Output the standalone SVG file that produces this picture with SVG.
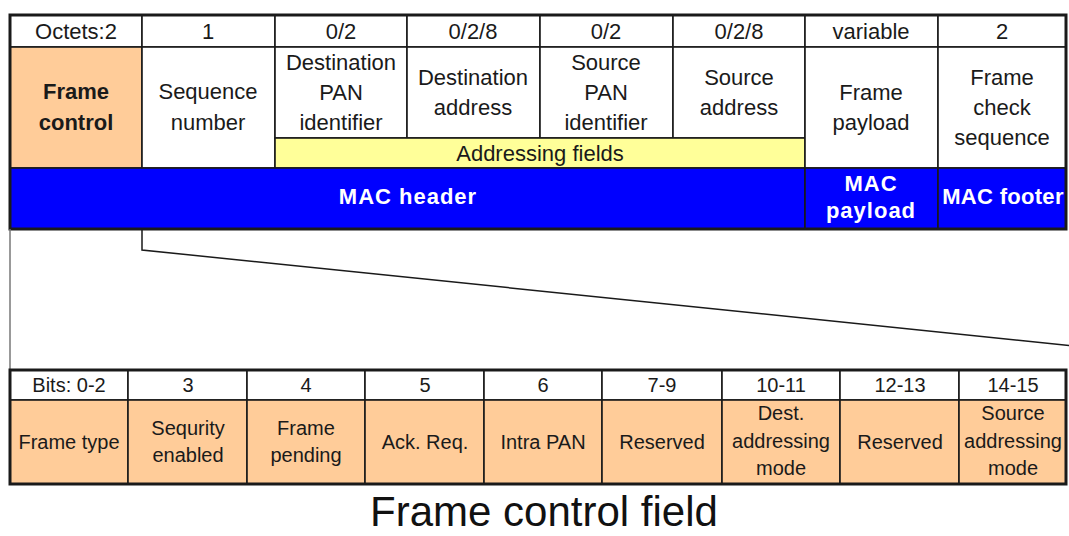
<svg xmlns="http://www.w3.org/2000/svg" width="1069" height="536" viewBox="0 0 1069 536">
  <style>
    .t { font-family: "Liberation Sans", Arial, sans-serif; font-size: 22px; fill: #1a1a1a; text-anchor: middle; }
    .s { font-family: "Liberation Sans", Arial, sans-serif; font-size: 20px; fill: #1a1a1a; text-anchor: middle; }
    .b { font-weight: bold; }
    .w { font-family: "Liberation Sans", Arial, sans-serif; font-size: 22px; font-weight: bold; fill: #ffffff; text-anchor: middle; letter-spacing: 1px; }
    .cell { stroke: #1a1a1a; stroke-width: 1.6; }
    .white { fill: #ffffff; }
    .peach { fill: #ffcc99; }
    .yellow { fill: #ffff99; }
    .blue { fill: #0000ff; }
    .frame { fill: none; stroke: #1a1a1a; stroke-width: 3; }
    .title { font-family: "Liberation Sans", Arial, sans-serif; font-size: 42px; fill: #111111; text-anchor: middle; }
  </style>

  <rect x="0" y="0" width="1069" height="536" fill="#ffffff"/>

  <!-- MAC frame: octet counts -->
  <g id="octets">
    <rect class="cell white" x="10" y="15" width="132" height="32"/>
    <rect class="cell white" x="142" y="15" width="133" height="32"/>
    <rect class="cell white" x="275" y="15" width="132" height="32"/>
    <rect class="cell white" x="407" y="15" width="133" height="32"/>
    <rect class="cell white" x="540" y="15" width="133" height="32"/>
    <rect class="cell white" x="673" y="15" width="132" height="32"/>
    <rect class="cell white" x="805" y="15" width="133" height="32"/>
    <rect class="cell white" x="938" y="15" width="128" height="32"/>
    <text class="t" x="76" y="39">Octets:2</text>
    <text class="t" x="208" y="39">1</text>
    <text class="t" x="341" y="39">0/2</text>
    <text class="t" x="473" y="39">0/2/8</text>
    <text class="t" x="606" y="39">0/2</text>
    <text class="t" x="739" y="39">0/2/8</text>
    <text class="t" x="871" y="39">variable</text>
    <text class="t" x="1002" y="39">2</text>
  </g>

  <g id="frame-control">
    <rect class="cell peach" x="10" y="47" width="132" height="121"/>
    <text class="t b" x="76" y="99">Frame</text>
    <text class="t b" x="76" y="130">control</text>
  </g>

  <g id="sequence-number">
    <rect class="cell white" x="142" y="47" width="133" height="121"/>
    <text class="t" x="208" y="99">Sequence</text>
    <text class="t" x="208" y="130">number</text>
  </g>

  <g id="dest-pan">
    <rect class="cell white" x="275" y="47" width="132" height="91"/>
    <text class="t" x="341" y="70">Destination</text>
    <text class="t" x="341" y="100">PAN</text>
    <text class="t" x="341" y="130">identifier</text>
  </g>

  <g id="dest-address">
    <rect class="cell white" x="407" y="47" width="133" height="91"/>
    <text class="t" x="473" y="85">Destination</text>
    <text class="t" x="473" y="115">address</text>
  </g>

  <g id="src-pan">
    <rect class="cell white" x="540" y="47" width="133" height="91"/>
    <text class="t" x="606" y="70">Source</text>
    <text class="t" x="606" y="100">PAN</text>
    <text class="t" x="606" y="130">identifier</text>
  </g>

  <g id="src-address">
    <rect class="cell white" x="673" y="47" width="132" height="91"/>
    <text class="t" x="739" y="85">Source</text>
    <text class="t" x="739" y="115">address</text>
  </g>

  <g id="addressing-fields">
    <rect class="cell yellow" x="275" y="138" width="530" height="30"/>
    <text class="t" x="540" y="161">Addressing fields</text>
  </g>

  <g id="frame-payload">
    <rect class="cell white" x="805" y="47" width="133" height="121"/>
    <text class="t" x="871" y="100">Frame</text>
    <text class="t" x="871" y="130">payload</text>
  </g>

  <g id="fcs">
    <rect class="cell white" x="938" y="47" width="128" height="121"/>
    <text class="t" x="1002" y="85">Frame</text>
    <text class="t" x="1002" y="115">check</text>
    <text class="t" x="1002" y="145">sequence</text>
  </g>

  <g id="mac-header">
    <rect class="cell blue" x="10" y="168" width="795" height="61"/>
    <text class="w" x="408" y="204">MAC header</text>
  </g>

  <g id="mac-payload">
    <rect class="cell blue" x="805" y="168" width="133" height="61"/>
    <text class="w" x="871" y="191">MAC</text>
    <text class="w" x="871" y="218">payload</text>
  </g>

  <g id="mac-footer">
    <rect class="cell blue" x="938" y="168" width="128" height="61"/>
    <text class="w" x="1003" y="204" style="letter-spacing:0.3px">MAC footer</text>
  </g>

  <rect class="frame" x="10" y="15" width="1056" height="214"/>

  <!-- expansion lines from the frame control field down to its bit layout -->
  <g id="connectors" fill="none">
    <line x1="10" y1="229" x2="10" y2="370" stroke="#777777" stroke-width="1.5"/>
    <polyline points="142,229 142,250 1075,346" stroke="#1a1a1a" stroke-width="1.5"/>
  </g>

  <!-- frame control bit layout -->
  <g id="bit-numbers">
    <rect class="cell white" x="10" y="370" width="118" height="30"/>
    <rect class="cell white" x="128" y="370" width="119" height="30"/>
    <rect class="cell white" x="247" y="370" width="118" height="30"/>
    <rect class="cell white" x="365" y="370" width="119" height="30"/>
    <rect class="cell white" x="484" y="370" width="118" height="30"/>
    <rect class="cell white" x="602" y="370" width="120" height="30"/>
    <rect class="cell white" x="722" y="370" width="118" height="30"/>
    <rect class="cell white" x="840" y="370" width="119" height="30"/>
    <rect class="cell white" x="959" y="370" width="107" height="30"/>
    <text class="s" x="69" y="392">Bits: 0-2</text>
    <text class="s" x="188" y="392">3</text>
    <text class="s" x="306" y="392">4</text>
    <text class="s" x="425" y="392">5</text>
    <text class="s" x="543" y="392">6</text>
    <text class="s" x="662" y="392">7-9</text>
    <text class="s" x="781" y="392">10-11</text>
    <text class="s" x="900" y="392">12-13</text>
    <text class="s" x="1013" y="392">14-15</text>
  </g>

  <g id="frame-type">
    <rect class="cell peach" x="10" y="400" width="118" height="84"/>
    <text class="s" x="69" y="449">Frame type</text>
  </g>

  <g id="security-enabled">
    <rect class="cell peach" x="128" y="400" width="119" height="84"/>
    <text class="s" x="188" y="435">Sequrity</text>
    <text class="s" x="188" y="462">enabled</text>
  </g>

  <g id="frame-pending">
    <rect class="cell peach" x="247" y="400" width="118" height="84"/>
    <text class="s" x="306" y="435">Frame</text>
    <text class="s" x="306" y="462">pending</text>
  </g>

  <g id="ack-req">
    <rect class="cell peach" x="365" y="400" width="119" height="84"/>
    <text class="s" x="425" y="449">Ack. Req.</text>
  </g>

  <g id="intra-pan">
    <rect class="cell peach" x="484" y="400" width="118" height="84"/>
    <text class="s" x="543" y="449">Intra PAN</text>
  </g>

  <g id="reserved-1">
    <rect class="cell peach" x="602" y="400" width="120" height="84"/>
    <text class="s" x="662" y="449">Reserved</text>
  </g>

  <g id="dest-mode">
    <rect class="cell peach" x="722" y="400" width="118" height="84"/>
    <text class="s" x="781" y="420">Dest.</text>
    <text class="s" x="781" y="448">addressing</text>
    <text class="s" x="781" y="475">mode</text>
  </g>

  <g id="reserved-2">
    <rect class="cell peach" x="840" y="400" width="119" height="84"/>
    <text class="s" x="900" y="449">Reserved</text>
  </g>

  <g id="src-mode">
    <rect class="cell peach" x="959" y="400" width="107" height="84"/>
    <text class="s" x="1013" y="420">Source</text>
    <text class="s" x="1013" y="448">addressing</text>
    <text class="s" x="1013" y="475">mode</text>
  </g>

  <rect class="frame" x="10" y="370" width="1056" height="114"/>

  <text class="title" x="544" y="526">Frame control field</text>
</svg>
